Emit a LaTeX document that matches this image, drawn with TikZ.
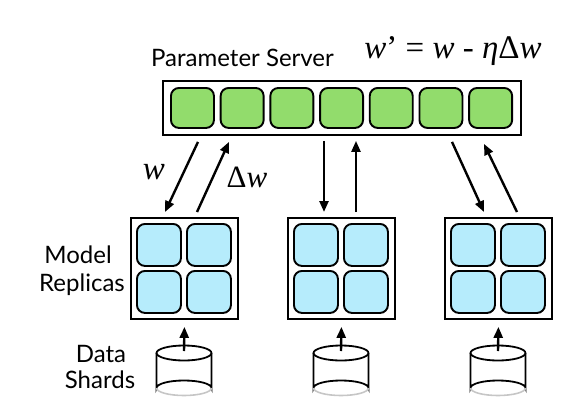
\documentclass[tikz,border=0pt]{standalone}
\usepackage{fontspec}
\setmainfont{Liberation Serif}
\newfontfamily\gillfont{Lato}
\usetikzlibrary{arrows.meta,calc}
\definecolor{cellgreen}{RGB}{146,220,108}
\definecolor{cellblue}{RGB}{182,236,252}
\begin{document}
\begin{tikzpicture}[x=1pt,y=-1pt,
  frame/.style={draw=black,line width=1.9pt,fill=white,inner sep=0pt,anchor=north west},
  gcell/.style={draw=black,line width=1.9pt,fill=cellgreen,rounded corners=8pt,inner sep=0pt,
    minimum width=43pt,minimum height=40pt,anchor=north west},
  bcell/.style={draw=black,line width=1.9pt,fill=cellblue,rounded corners=8pt,inner sep=0pt,
    minimum width=44pt,minimum height=42pt,anchor=north west},
  flow/.style={line width=2.4pt,-{Triangle[length=11pt,width=9pt]}},
  sanslabel/.style={font=\gillfont\fontsize{24}{28}\selectfont,anchor=base,inner sep=0pt},
  mathlabel/.style={anchor=base,inner sep=0pt}
]
\useasboundingbox (0,0) rectangle (574,413);
% parameter server
\node[frame,minimum width=358pt,minimum height=54pt] (ps) at (162,80) {};
\foreach \i in {0,...,6} {\node[gcell] (g\i) at ({170+49.7*\i},87) {};}
\node[sanslabel] (pstext) at (242.5,66) {Parameter Server};
\node[mathlabel,font=\fontsize{33}{38}\selectfont] (rule) at (453,58)
  {\textit{w}’ = \textit{w} - \textit{η}Δ\textit{w}};
% replicas
\foreach \k/\x in {1/130,2/287,3/444} {
  \node[frame,minimum width=107pt,minimum height=101pt] (r\k) at (\x,217) {};
  \node[bcell] (r\k a) at ({\x+6},223) {};
  \node[bcell] (r\k b) at ({\x+56},223) {};
  \node[bcell] (r\k c) at ({\x+6},270) {};
  \node[bcell] (r\k d) at ({\x+56},270) {};
}
% arrows between server and replicas
\draw[flow] ($(ps.south west)+(36,6)$) -- ($(r1.north west)+(35,-5)$);
\draw[flow] ($(r1.north west)+(67,-5)$) -- ($(ps.south west)+(67,6)$);
\draw[flow] ($(ps.south west)+(162,5)$) -- ($(r2.north west)+(37,-5)$);
\draw[flow] ($(r2.north west)+(69,-5)$) -- ($(ps.south west)+(194,5)$);
\draw[flow] ($(ps.south west)+(290,6)$) -- ($(r3.north west)+(40,-5)$);
\draw[flow] ($(r3.north west)+(73,-5)$) -- ($(ps.south west)+(322,8)$);
\node[mathlabel,font=\fontsize{33}{38}\selectfont] (wlab) at (154,179) {\textit{w}};
\node[mathlabel,font=\fontsize{31}{36}\selectfont] (dwlab) at (247,187) {Δ\textit{w}};
% data shards
\foreach \k/\cx in {1/184,2/341,3/498} {
  \draw[line width=1.8pt,fill=white] ({\cx-27.5},353) -- ({\cx-27.5},388)
    arc[start angle=180,end angle=360,x radius=27.5,y radius=7.5] -- ({\cx+27.5},353);
  \draw[gray!45,line width=1.6pt] ({\cx+27.5},388)
    arc[start angle=0,end angle=180,x radius=27.5,y radius=7.5];
  \draw[line width=1.8pt] ({\cx+27.5},353)
    arc[start angle=0,end angle=360,x radius=27.5,y radius=7.5];
  \coordinate (d\k) at (\cx,351);
  \draw[flow] (d\k) -- ($(r\k.south)+(0,7)$);
}
% side labels
\node[sanslabel] (mtext) at (78,263) {Model};
\node[sanslabel] (rtext) at (82,291) {Replicas};
\node[sanslabel] (dtext) at (101,362) {Data};
\node[sanslabel] (stext) at (100,388) {Shards};
\end{tikzpicture}
\end{document}
